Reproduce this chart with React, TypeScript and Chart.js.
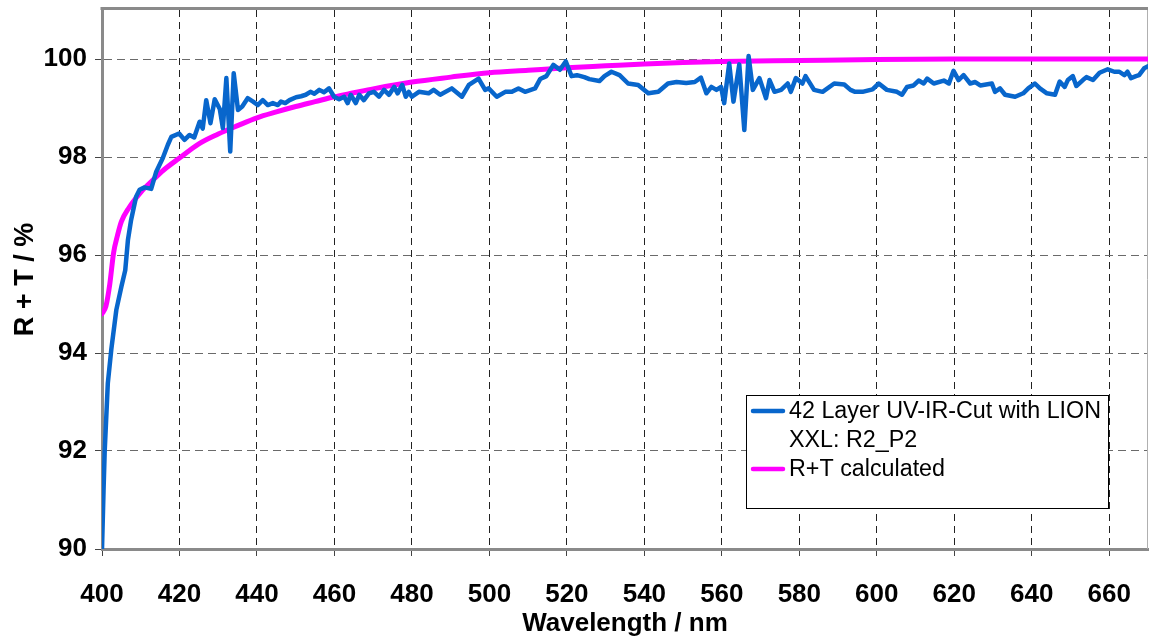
import React, { useEffect, useRef } from "react";
import { Chart, registerables } from "chart.js";

Chart.register(...registerables);

// ---- Data -----------------------------------------------------------
const measuredWavelength: number[] = [
  400.0, 400.4, 400.7, 401.5, 402.4, 403.7, 405.0, 406.0, 406.7, 407.5, 408.8, 409.7, 411.0, 412.7, 414.0,
  415.7, 417.0, 417.9, 419.9, 421.3, 422.6, 423.8, 425.2, 426.0, 426.9, 428.0, 429.1, 430.4, 431.2, 432.1,
  433.1, 434.0, 435.1, 436.2, 437.6, 439.0, 440.2, 441.5, 442.8, 444.1, 445.4, 446.2, 447.3, 448.4, 450.1,
  451.4, 452.6, 453.8, 454.8, 456.1, 457.3, 458.6, 459.9, 461.2, 462.5, 463.4, 464.2, 465.5, 466.4, 467.6,
  468.9, 470.2, 471.5, 472.8, 474.1, 475.4, 476.3, 477.5, 478.4, 479.2, 480.0, 481.8,
  484.3, 485.6, 487.3, 490.3, 492.9, 494.7, 497.2, 498.9, 499.8, 501.9, 504.1, 505.8, 507.5, 509.2, 511.8,
  513.1, 514.7, 516.5, 518.2, 519.7, 521.2, 522.6, 524.5, 525.8, 528.4, 529.7, 531.5, 533.6, 535.8, 538.4,
  541.0, 543.6, 546.1, 548.3, 550.8, 553.0, 554.6, 556.0, 557.3, 558.6, 559.8, 560.6, 561.9, 563.0, 564.5,
  565.8, 566.9, 568.0, 569.7, 571.4, 572.3, 573.6, 575.3, 577.0, 577.8, 579.1, 580.8, 581.6, 583.8, 586.0,
  589.0, 591.6, 593.2, 594.4, 596.3, 598.9, 600.5, 602.6, 605.2, 606.5, 607.8, 609.5, 610.8, 612.1, 613.0,
  614.7, 617.3, 618.6, 619.8, 621.1, 622.4, 624.1, 625.4, 626.7, 629.7, 630.5, 631.8, 633.1, 635.7, 637.8,
  639.1, 640.8, 642.1, 643.9, 646.0, 647.2, 648.5, 649.3, 650.6, 651.5, 653.2, 654.1, 655.8, 657.5, 659.6,
  661.3, 662.6, 663.9, 664.7, 665.6, 666.9, 667.7, 669.0, 670.0,
];
const measuredRT: number[] = [
  90.0, 91.2, 92.0, 93.38, 94.07, 94.88, 95.35, 95.69, 96.31, 96.71, 97.19, 97.33, 97.38, 97.35, 97.7,
  97.98, 98.25, 98.41, 98.48, 98.35, 98.45, 98.4, 98.72, 98.58, 99.16, 98.69, 99.18, 98.98, 98.59, 99.61,
  98.11, 99.71, 98.96, 99.03, 99.2, 99.13, 99.06, 99.16, 99.06, 99.1, 99.06, 99.13, 99.1, 99.16, 99.22,
  99.24, 99.27, 99.33, 99.29, 99.37, 99.32, 99.4, 99.23, 99.18, 99.23, 99.1, 99.27, 99.1, 99.27, 99.16,
  99.3, 99.33, 99.23, 99.37, 99.27, 99.43, 99.3, 99.47, 99.23, 99.33, 99.23, 99.33,
  99.3, 99.37, 99.27, 99.4, 99.23, 99.47, 99.6, 99.37, 99.4, 99.23, 99.33, 99.33, 99.4, 99.33, 99.4,
  99.59, 99.65, 99.88, 99.78, 99.95, 99.65, 99.67, 99.63, 99.59, 99.55, 99.65, 99.74, 99.67, 99.5, 99.47,
  99.3, 99.33, 99.5, 99.53, 99.51, 99.53, 99.62, 99.3, 99.43, 99.37, 99.43, 99.1, 99.91, 99.13, 99.89,
  98.55, 100.06, 99.37, 99.61, 99.2, 99.57, 99.33, 99.37, 99.5, 99.33, 99.61, 99.5, 99.65, 99.37, 99.33,
  99.5, 99.48, 99.37, 99.33, 99.33, 99.38, 99.5, 99.37, 99.33, 99.27, 99.43, 99.46, 99.56, 99.5, 99.6,
  99.5, 99.56, 99.5, 99.76, 99.57, 99.67, 99.5, 99.53, 99.46, 99.5, 99.33, 99.4, 99.27, 99.23, 99.3,
  99.4, 99.5, 99.4, 99.3, 99.27, 99.54, 99.43, 99.57, 99.65, 99.45, 99.57, 99.63, 99.57, 99.72, 99.79,
  99.74, 99.74, 99.67, 99.74, 99.61, 99.65, 99.67, 99.81, 99.85,
];

const calcWavelength: number[] = [
  400, 401, 402, 403, 404, 405, 407, 410, 413, 416, 420, 425, 430, 435, 440, 445, 450, 455, 460, 465,
  470, 480, 490, 500, 510, 520, 530, 540, 550, 560, 580, 600, 620, 670,
];
const calcRT: number[] = [
  94.8, 94.95, 95.4, 96.05, 96.4, 96.68, 96.97, 97.28, 97.52, 97.74, 97.98, 98.27, 98.47, 98.64, 98.8,
  98.92, 99.03, 99.13, 99.23, 99.31, 99.39, 99.53, 99.63, 99.72, 99.77, 99.82, 99.86, 99.9, 99.93, 99.95,
  99.97, 99.99, 100.0, 100.0,
];

const xTicks: number[] = [400, 420, 440, 460, 480, 500, 520, 540, 560, 580, 600, 620, 640, 660];
const yTicks: number[] = [90, 92, 94, 96, 98, 100];

const measuredLegend: string[] = ["42 Layer UV-IR-Cut with LION", "XXL: R2_P2"];
const calcLegend: string[] = ["R+T calculated"];

const xTitle = "Wavelength / nm";
const yTitle = "R + T / %";

// ---- Styles ---------------------------------------------------------
const BLUE = "#0866cc";
const MAGENTA = "#ff00ff";
const FONT = '"Liberation Sans", Arial, Helvetica, sans-serif';

const framePlugin = {
  id: "frame",
  beforeDatasetsDraw(chart: any) {
    const { ctx, chartArea } = chart;
    ctx.save();
    ctx.strokeStyle = "#8a8a8a";
    ctx.lineWidth = 3;
    ctx.beginPath();
    ctx.moveTo(chartArea.left - 1.5, chartArea.top - 1.5);
    ctx.lineTo(chartArea.right, chartArea.top - 1.5);
    ctx.stroke();
    ctx.strokeStyle = "#b0b0b0";
    ctx.lineWidth = 1;
    ctx.beginPath();
    ctx.moveTo(chartArea.right - 0.5, chartArea.top);
    ctx.lineTo(chartArea.right - 0.5, chartArea.bottom);
    ctx.stroke();
    ctx.restore();
  },
};

const boxLegendPlugin = {
  id: "boxLegend",
  afterDatasetsDraw(chart: any) {
    const { ctx, chartArea } = chart;
    const x0 = chartArea.left + 644;
    const y0 = chartArea.top + 385;
    const w = 362;
    const h = 113;
    ctx.save();
    ctx.fillStyle = "#ffffff";
    ctx.fillRect(x0, y0, w, h);
    ctx.strokeStyle = "#000000";
    ctx.lineWidth = 1;
    ctx.strokeRect(x0 + 0.5, y0 + 0.5, w, h);
    ctx.font = `23.3px ${FONT}`;
    ctx.textBaseline = "middle";
    ctx.textAlign = "left";
    ctx.fillStyle = "#000000";
    const entries = [
      { color: BLUE, lines: measuredLegend },
      { color: MAGENTA, lines: calcLegend },
    ];
    let y = y0 + 16;
    const lineGap = 29;
    for (const e of entries) {
      ctx.strokeStyle = e.color;
      ctx.lineWidth = 4.5;
      ctx.lineCap = "round";
      ctx.beginPath();
      ctx.moveTo(x0 + 7, y);
      ctx.lineTo(x0 + 37, y);
      ctx.stroke();
      e.lines.forEach((t, i) => {
        ctx.fillText(t, x0 + 43, y + i * lineGap + 1);
      });
      y += e.lines.length * lineGap;
    }
    ctx.restore();
  },
};

export default function App() {
  const ref = useRef<HTMLCanvasElement | null>(null);

  useEffect(() => {
    if (!ref.current) return;
    const blueData = measuredWavelength.map((x, i) => ({ x, y: measuredRT[i] }));
    const calcData = calcWavelength.map((x, i) => ({ x, y: calcRT[i] }));

    const chart = new Chart(ref.current, {
      type: "line",
      data: {
        datasets: [
          {
            label: measuredLegend.join(" "),
            data: blueData,
            borderColor: BLUE,
            backgroundColor: BLUE,
            borderWidth: 4.5,
            pointRadius: 0,
            tension: 0,
            borderJoinStyle: "round",
            borderCapStyle: "round",
          },
          {
            label: calcLegend.join(" "),
            data: calcData,
            borderColor: MAGENTA,
            backgroundColor: MAGENTA,
            borderWidth: 5,
            pointRadius: 0,
            cubicInterpolationMode: "monotone",
            borderJoinStyle: "round",
            borderCapStyle: "round",
          },
        ],
      },
      options: {
        animation: false,
        responsive: false,
        maintainAspectRatio: false,
        layout: { padding: { top: 10, right: 1, left: 0, bottom: 0 } },
        plugins: {
          legend: { display: false },
          tooltip: { enabled: false },
        },
        scales: {
          x: {
            type: "linear",
            min: 400,
            max: 670,
            afterBuildTicks: (scale: any) => {
              scale.ticks = xTicks.map((v) => ({ value: v }));
            },
            afterFit: (scale: any) => {
              scale.height = 91;
              scale.paddingLeft = 0;
              scale.paddingRight = 0;
            },
            grid: {
              color: (c: any) => (c.tick && c.tick.value === 400 ? "rgba(0,0,0,0)" : "#222222"),
              lineWidth: 1,
              tickLength: 7,
              tickColor: "#444444",
              tickWidth: 1,
            },
            border: { display: true, color: "#8a8a8a", width: 3, dash: [7, 5] },
            ticks: {
              color: "#000000",
              font: { family: FONT, size: 26, weight: "bold" },
              padding: 23,
              maxRotation: 0,
              autoSkip: false,
              callback: (v: any) => String(v),
            },
            title: {
              display: true,
              text: xTitle,
              color: "#000000",
              font: { family: FONT, size: 26, weight: "bold" },
              padding: { top: 0, bottom: 1 },
            },
          },
          y: {
            type: "linear",
            min: 90,
            max: 101,
            afterBuildTicks: (scale: any) => {
              scale.ticks = yTicks.map((v) => ({ value: v }));
            },
            afterFit: (scale: any) => {
              scale.width = 102;
              scale.paddingTop = 0;
              scale.paddingBottom = 0;
            },
            grid: {
              color: (c: any) => (c.tick && c.tick.value === 90 ? "rgba(0,0,0,0)" : "#6a6a6a"),
              lineWidth: 1,
              tickLength: 7,
              tickColor: "#444444",
              tickWidth: 1,
            },
            border: { display: true, color: "#8a8a8a", width: 3, dash: [8, 5] },
            ticks: {
              color: "#000000",
              font: { family: FONT, size: 26, weight: "bold" },
              padding: 8,
              autoSkip: false,
              callback: (v: any) => String(v),
            },
            title: {
              display: true,
              text: yTitle,
              color: "#000000",
              font: { family: FONT, size: 27, weight: "bold" },
              padding: { top: 9, bottom: 0 },
            },
          },
        },
      },
      plugins: [framePlugin, boxLegendPlugin],
    });

    return () => chart.destroy();
  }, []);

  return (
    <div style={{ position: "absolute", left: 0, top: 0, width: 1149, height: 640, background: "#ffffff" }}>
      <canvas ref={ref} width={1149} height={640} style={{ display: "block", width: 1149, height: 640 }} />
    </div>
  );
}
